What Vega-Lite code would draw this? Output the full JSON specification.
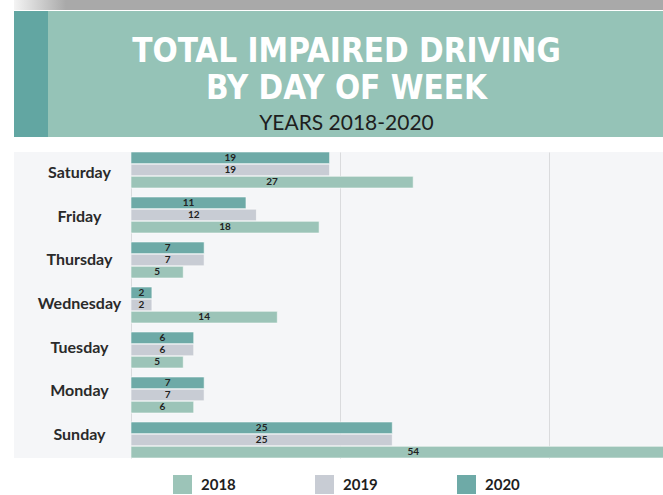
{
  "$schema": "https://vega.github.io/schema/vega-lite/v6.json",
  "padding": {"left": 14, "top": 0, "right": 0, "bottom": 0},
  "background": "white",
  "config": {"view": {"stroke": null}},
  "datasets": {
    "crashes": [
      {"day": "Saturday", "year": "2020", "value": 19},
      {"day": "Saturday", "year": "2019", "value": 19},
      {"day": "Saturday", "year": "2018", "value": 27},
      {"day": "Friday", "year": "2020", "value": 11},
      {"day": "Friday", "year": "2019", "value": 12},
      {"day": "Friday", "year": "2018", "value": 18},
      {"day": "Thursday", "year": "2020", "value": 7},
      {"day": "Thursday", "year": "2019", "value": 7},
      {"day": "Thursday", "year": "2018", "value": 5},
      {"day": "Wednesday", "year": "2020", "value": 2},
      {"day": "Wednesday", "year": "2019", "value": 2},
      {"day": "Wednesday", "year": "2018", "value": 14},
      {"day": "Tuesday", "year": "2020", "value": 6},
      {"day": "Tuesday", "year": "2019", "value": 6},
      {"day": "Tuesday", "year": "2018", "value": 5},
      {"day": "Monday", "year": "2020", "value": 7},
      {"day": "Monday", "year": "2019", "value": 7},
      {"day": "Monday", "year": "2018", "value": 6},
      {"day": "Sunday", "year": "2020", "value": 25},
      {"day": "Sunday", "year": "2019", "value": 25},
      {"day": "Sunday", "year": "2018", "value": 54}
    ],
    "days": [
      {"day": "Saturday"}, {"day": "Friday"}, {"day": "Thursday"}, {"day": "Wednesday"},
      {"day": "Tuesday"}, {"day": "Monday"}, {"day": "Sunday"}
    ],
    "header": [
      {"row": 1, "line": "TOTAL IMPAIRED DRIVING", "kind": "title"},
      {"row": 2, "line": "BY DAY OF WEEK", "kind": "title"},
      {"row": 3, "line": "YEARS 2018-2020", "kind": "subtitle"}
    ],
    "one": [{"k": 1}]
  },
  "vconcat": [
    {
      "vconcat": [
        {
          "width": 649,
          "height": 10,
          "data": {"name": "one"},
          "mark": {
            "type": "rect",
            "color": {
              "gradient": "linear", "x1": 0, "x2": 1, "y1": 0, "y2": 0,
              "stops": [
                {"offset": 0, "color": "#f4f4f4"},
                {"offset": 0.08, "color": "#a9a9a9"},
                {"offset": 1, "color": "#a9a9a9"}
              ]
            }
          },
          "encoding": {}
        },
        {
          "hconcat": [
            {
              "width": 34,
              "height": 126,
              "view": {"fill": "#62a6a2"},
              "data": {"name": "one"},
              "mark": {"type": "text", "text": ""},
              "encoding": {}
            },
            {
              "width": 615,
              "height": 126,
              "view": {"fill": "#95c3b7"},
              "data": {"name": "header"},
              "layer": [
                {
                  "transform": [{"filter": "datum.kind === 'title'"}],
                  "mark": {"type": "text", "font": "DejaVu Sans Condensed, Roboto Condensed, Roboto", "fontWeight": "bold", "fontSize": 33, "color": "white", "dx": -9, "dy": 2, "baseline": "middle"},
                  "encoding": {
                    "y": {"field": "row", "type": "ordinal", "scale": {"type": "point", "domain": [1, 2, 3], "range": [39, 113], "padding": 0}, "axis": null},
                    "text": {"field": "line"}
                  }
                },
                {
                  "transform": [{"filter": "datum.kind === 'subtitle'"}],
                  "mark": {"type": "text", "font": "Lato", "fontSize": 21, "color": "#1e1e1e", "dx": -9, "baseline": "middle"},
                  "encoding": {
                    "y": {"field": "row", "type": "ordinal", "scale": {"type": "point", "domain": [1, 2, 3], "range": [39, 113], "padding": 0}, "axis": null},
                    "text": {"field": "line"}
                  }
                }
              ]
            }
          ],
          "spacing": 0
        }
      ],
      "spacing": 1
    },
    {
      "hconcat": [
        {
          "width": 117,
          "height": 306,
          "view": {"fill": "#f5f6f8"},
          "data": {"name": "days"},
          "mark": {"type": "text", "font": "Lato", "fontWeight": "bold", "fontSize": 16, "color": "#2a2a2a", "dx": 7, "dy": -1},
          "encoding": {
            "y": {
              "field": "day", "type": "nominal",
              "sort": ["Saturday", "Friday", "Thursday", "Wednesday", "Tuesday", "Monday", "Sunday"],
              "scale": {"paddingInner": 0.2, "paddingOuter": 0},
              "axis": null
            },
            "text": {"field": "day"}
          }
        },
        {
          "width": 532,
          "height": 306,
          "view": {"fill": "#f5f6f8"},
          "data": {"name": "crashes"},
          "encoding": {
            "y": {
              "field": "day", "type": "nominal",
              "sort": ["Saturday", "Friday", "Thursday", "Wednesday", "Tuesday", "Monday", "Sunday"],
              "scale": {"paddingInner": 0.2, "paddingOuter": 0},
              "axis": null
            },
            "yOffset": {
              "field": "year", "type": "nominal",
              "sort": ["2020", "2019", "2018"],
              "scale": {"paddingInner": 0.04, "paddingOuter": 0}
            }
          },
          "layer": [
            {
              "mark": {"type": "bar", "clip": true, "stroke": "#ffffff", "strokeOpacity": 0.55, "strokeWidth": 1},
              "encoding": {
                "x": {
                  "field": "value", "type": "quantitative",
                  "scale": {"domain": [0, 50.9], "nice": false, "zero": true},
                  "axis": {"values": [0, 20, 40], "labels": false, "ticks": false, "domain": false, "title": null, "grid": true, "gridColor": "#dadbdd", "gridWidth": 1}
                },
                "color": {
                  "field": "year", "type": "nominal",
                  "scale": {"domain": ["2018", "2019", "2020"], "range": ["#9cc4b8", "#c8ccd4", "#6eaaa7"]},
                  "legend": {
                    "orient": "none", "legendX": 159, "legendY": 475,
                    "direction": "horizontal", "columns": 3, "title": null,
                    "symbolType": "square", "symbolSize": 361, "symbolStrokeWidth": 0, "symbolOpacity": 1,
                    "labelFont": "Lato", "labelFontWeight": "bold", "labelFontSize": 15, "labelColor": "#1e1e1e",
                    "labelOffset": 9, "columnPadding": 79
                  }
                }
              }
            },
            {
              "transform": [{"calculate": "datum.value / 2", "as": "mid"}],
              "mark": {"type": "text", "font": "Lato", "fontWeight": "bold", "fontSize": 10, "color": "#222222", "baseline": "middle"},
              "encoding": {
                "x": {"field": "mid", "type": "quantitative"},
                "text": {"field": "value", "type": "quantitative"}
              }
            }
          ]
        }
      ],
      "spacing": 0
    }
  ],
  "spacing": 15
}
